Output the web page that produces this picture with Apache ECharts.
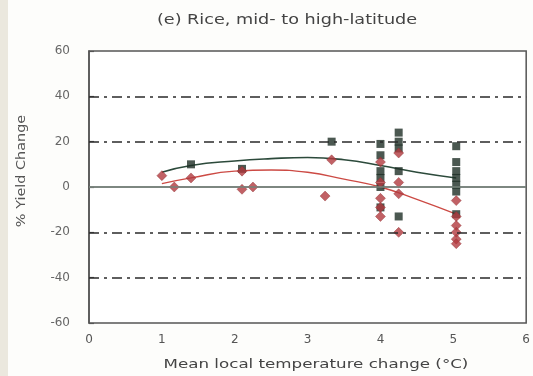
<!DOCTYPE html>
<html><head><meta charset="utf-8">
<script src="https://cdn.jsdelivr.net/npm/echarts@6/dist/echarts.min.js"></script>
<style>html,body{margin:0;padding:0;background:#fdfdfb;}#c{width:533px;height:376px;}</style>
</head><body><div id="c"></div>
<script>
// ---- data ----
const titleText = '(e) Rice, mid- to high-latitude';
const xAxisName = 'Mean local temperature change (°C)';
const yAxisName = '% Yield Change';
const xTickLabels = ['0', '1', '2', '3', '4', '5', '6'];
const yTickLabels = ['-60', '-40', '-20', '0', '20', '40', '60'];
const dashGridValues = [-40, -20, 20, 40];
const zeroLineValue = 0;

// black squares [temperature change, % yield change]
const squarePoints = [
  [1.4, 10], [2.1, 8], [3.33, 20],
  [4.0, 19], [4.0, 14], [4.0, 7], [4.0, 4], [4.0, 0], [4.0, -9],
  [4.25, 24], [4.25, 20], [4.25, 17], [4.25, 7], [4.25, -13],
  [5.04, 18], [5.04, 11], [5.04, 7], [5.04, 4], [5.04, 1], [5.04, -2], [5.04, -12]
];
// red diamonds
const diamondPoints = [
  [1.0, 5], [1.17, 0], [1.4, 4], [2.1, 7], [2.1, -1], [2.25, 0],
  [3.33, 12], [3.24, -4],
  [4.0, 11], [4.0, 2], [4.0, -5], [4.0, -9], [4.0, -13],
  [4.25, 15], [4.25, 2], [4.25, -3], [4.25, -20],
  [5.04, -6], [5.04, -13], [5.04, -17], [5.04, -20], [5.04, -23], [5.04, -25]
];
// fitted curves
const squareCurve = [[1.0, 6.5], [1.4, 9.5], [2.0, 11.5], [2.5, 12.5], [3.0, 13], [3.5, 12], [4.0, 9.5], [4.5, 6.5], [5.04, 4]];
const diamondCurve = [[1.0, 1.5], [1.4, 4], [2.0, 7], [2.5, 7.5], [3.0, 6.5], [3.5, 3.5], [4.0, 0], [4.5, -5.5], [5.04, -12]];

const chart = echarts.init(document.getElementById('c'), null, {renderer: 'canvas'});
const FONT = 'DejaVu Sans';
chart.setOption({
  animation: false,
  backgroundColor: '#fdfdfb',
  grid: {left: 89, top: 51, right: 5, bottom: 53, show: true, backgroundColor: '#ffffff', borderColor: '#555', borderWidth: 1.5},
  xAxis: {
    type: 'value', min: 0, max: 6, interval: 1,
    axisLine: {show: true, lineStyle: {color: '#555', width: 1.5}},
    axisTick: {show: false},
    splitLine: {show: false},
    axisLabel: {margin: 11, fontFamily: FONT, fontSize: 12, color: '#555',
      formatter: v => xTickLabels[Math.round(v)]}
  },
  yAxis: {
    type: 'value', min: -60, max: 60, interval: 20,
    axisLine: {show: true, lineStyle: {color: '#555', width: 1.5}},
    axisTick: {show: true, inside: true, length: 5, lineStyle: {color: '#555', width: 1.2}},
    splitLine: {show: false},
    axisLabel: {margin: 19, fontFamily: FONT, fontSize: 12, color: '#666',
      formatter: v => yTickLabels[Math.round((v + 60) / 20)]}
  },
  graphic: [
    {type: 'rect', left: 0, top: 0, shape: {width: 8, height: 376}, style: {fill: '#ebe8de'}, z: -1},
    {type: 'text', x: 287, y: 20, scaleX: 1.26, style: {text: titleText, fontFamily: FONT, fontSize: 14, fill: '#444', textAlign: 'center', textVerticalAlign: 'middle'}},
    {type: 'text', x: 316, y: 365, scaleX: 1.39, style: {text: xAxisName, fontFamily: FONT, fontSize: 12, fill: '#444', textAlign: 'center', textVerticalAlign: 'middle'}},
    {type: 'text', x: 22, y: 171, rotation: Math.PI / 2, scaleX: 1.2, style: {text: yAxisName, fontFamily: FONT, fontSize: 12, fill: '#555', textAlign: 'center', textVerticalAlign: 'middle'}}
  ],
  series: [
    {
      type: 'line', data: [], z: 1, silent: true,
      markLine: {
        silent: true, symbol: 'none', label: {show: false}, animation: false,
        data: dashGridValues.map(v => ({yAxis: v, lineStyle: {type: [10, 5, 3, 5], color: '#2a2a2a', width: 1.5}}))
          .concat([{yAxis: zeroLineValue, lineStyle: {type: 'solid', color: '#7d8a82', width: 1.6}}])
      }
    },
    {type: 'line', data: squareCurve, smooth: true, symbol: 'none', z: 2, lineStyle: {color: '#2c4a3b', width: 1.6}},
    {type: 'line', data: diamondCurve, smooth: true, symbol: 'none', z: 2, lineStyle: {color: '#cc4a44', width: 1.3}},
    {type: 'scatter', data: squarePoints, symbol: 'rect', symbolSize: [8, 8], z: 3, itemStyle: {color: '#1e2e26'}},
    {type: 'scatter', data: diamondPoints, symbol: 'diamond', symbolSize: [10, 10], z: 4, itemStyle: {color: '#b23a3e', borderColor: '#8e2c30', borderWidth: 0.5}}
  ]
});
</script></body></html>
